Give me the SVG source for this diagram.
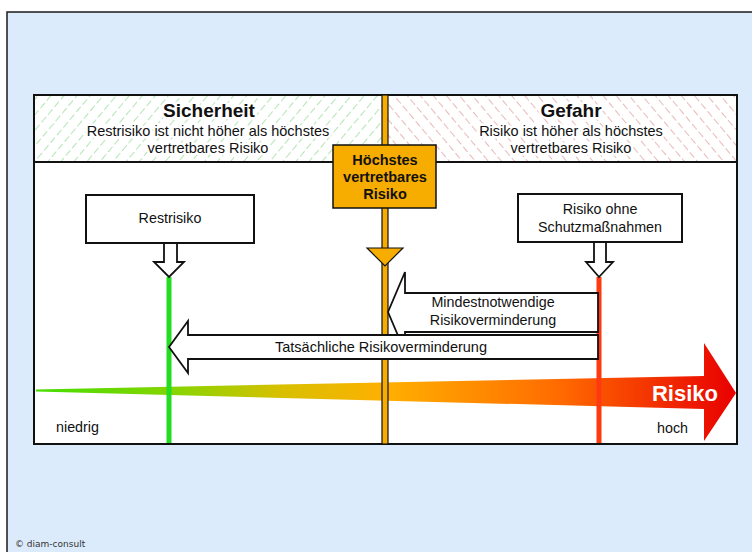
<svg xmlns="http://www.w3.org/2000/svg" width="752" height="552" viewBox="0 0 752 552">
<defs>
<style>
.t{font-family:"Liberation Sans",Arial,sans-serif;fill:#111;text-anchor:middle}
.halo{stroke:#fff;stroke-width:5;paint-order:stroke;stroke-linejoin:round}
.box{fill:#fff;stroke:#111;stroke-width:2}
.harrow{fill:#fff;stroke:#111;stroke-width:1.8;stroke-linejoin:miter}
</style>
<pattern id="hg" width="10" height="10" patternUnits="userSpaceOnUse" patternTransform="rotate(40)">
<rect width="10" height="10" fill="#fff"/>
<line x1="0" y1="0" x2="0" y2="10" stroke="#7fd47f" stroke-width="1.2" stroke-dasharray="7 3"/>
</pattern>
<pattern id="hr" width="10" height="10" patternUnits="userSpaceOnUse" patternTransform="rotate(-40)">
<rect width="10" height="10" fill="#fff"/>
<line x1="0" y1="0" x2="0" y2="10" stroke="#d98a8a" stroke-width="1.2" stroke-dasharray="7 3"/>
</pattern>
<linearGradient id="rg" gradientUnits="userSpaceOnUse" x1="36" y1="0" x2="736" y2="0">
<stop offset="0" stop-color="#44dd00"/>
<stop offset="0.2" stop-color="#88d400"/>
<stop offset="0.35" stop-color="#d8c000"/>
<stop offset="0.5" stop-color="#ffb000"/>
<stop offset="0.75" stop-color="#ff6a00"/>
<stop offset="1" stop-color="#e80000"/>
</linearGradient>
</defs>
<rect x="0" y="0" width="752" height="552" fill="#fff"/>
<rect x="7" y="12" width="760" height="560" fill="#dcebfc" stroke="#1a1a1a" stroke-width="1.5"/>
<text x="15" y="547" style="font-family:'DejaVu Sans',Verdana,sans-serif;font-size:9px;fill:#333">© diam-consult</text>

<g id="main">
<rect x="34" y="95" width="703" height="349" fill="#fff" stroke="#111" stroke-width="2"/>
<rect x="35" y="96" width="349" height="66" fill="url(#hg)"/>
<rect x="385" y="96" width="351" height="66" fill="url(#hr)"/>
<line x1="34" y1="162" x2="737" y2="162" stroke="#111" stroke-width="2"/>
</g>

<g id="sicherheit">
<text class="t halo" x="209" y="117" style="font-size:19px;font-weight:bold">Sicherheit</text>
<text class="t halo" x="208" y="136" style="font-size:14.5px">Restrisiko ist nicht höher als höchstes</text>
<text class="t halo" x="208" y="153" style="font-size:14.5px">vertretbares Risiko</text>
</g>
<g id="gefahr">
<text class="t halo" x="571" y="117" style="font-size:19px;font-weight:bold">Gefahr</text>
<text class="t halo" x="571" y="136" style="font-size:14.5px">Risiko ist höher als höchstes</text>
<text class="t halo" x="571" y="153" style="font-size:14.5px">vertretbares Risiko</text>
</g>

<g id="risiko-scale">
<polygon points="36,389.5 704,376 704,343 736,393 704,441 704,409 36,391.5" fill="url(#rg)"/>
<text x="718" y="401" style="font-family:'Liberation Sans',Arial,sans-serif;font-size:22px;font-weight:bold;fill:#fff;text-anchor:end">Risiko</text>
<text x="56" y="432" style="font-family:'Liberation Sans',Arial,sans-serif;font-size:14.3px;fill:#111">niedrig</text>
<text x="657" y="433" style="font-family:'Liberation Sans',Arial,sans-serif;font-size:14.3px;fill:#111">hoch</text>
</g>

<g id="connectors">
<line x1="169" y1="277" x2="169" y2="443" stroke="#22dd22" stroke-width="5"/>
<line x1="599" y1="277" x2="599" y2="443" stroke="#ff3a10" stroke-width="5"/>
<rect x="382" y="95" width="6" height="349" fill="#f7ac00" stroke="#111" stroke-width="1.2"/>
<polygon points="367,248 403,248 385,266" fill="#f7ac00" stroke="#111" stroke-width="1.2"/>
<polygon class="harrow" points="164,243 177,243 177,262 184,262 169,277 154,262 164,262"/>
<polygon class="harrow" points="594,242 606,242 606,262 613,262 599,277 586,262 594,262"/>
</g>

<g id="hoechstes">
<rect x="333" y="145" width="103" height="63" fill="#f7ac00" stroke="#111" stroke-width="1.5"/>
<text class="t" x="385" y="165" style="font-size:14.5px;font-weight:bold">Höchstes</text>
<text class="t" x="385" y="182" style="font-size:14.5px;font-weight:bold">vertretbares</text>
<text class="t" x="385" y="199" style="font-size:14.5px;font-weight:bold">Risiko</text>
</g>

<g id="restrisiko">
<rect class="box" x="86" y="195" width="168" height="48"/>
<text class="t" x="170" y="223" style="font-size:14.3px">Restrisiko</text>
</g>

<g id="ohne">
<rect class="box" x="518" y="194" width="164" height="48"/>
<text class="t" x="600" y="214" style="font-size:14.3px">Risiko ohne</text>
<text class="t" x="600" y="232" style="font-size:14.3px">Schutzmaßnahmen</text>
</g>

<g id="mindest">
<polygon class="harrow" points="598,293 405,293 405,272 388,312 405,352 405,332 598,332"/>
<text class="t" x="493" y="307" style="font-size:14.3px">Mindestnotwendige</text>
<text class="t" x="493" y="325" style="font-size:14.3px">Risikoverminderung</text>
</g>

<g id="tatsaechlich">
<polygon class="harrow" points="598,335 188,335 188,321 169,347 188,373 188,359 598,359"/>
<text class="t" x="381" y="352" style="font-size:14.5px">Tatsächliche Risikoverminderung</text>
</g>
</svg>
